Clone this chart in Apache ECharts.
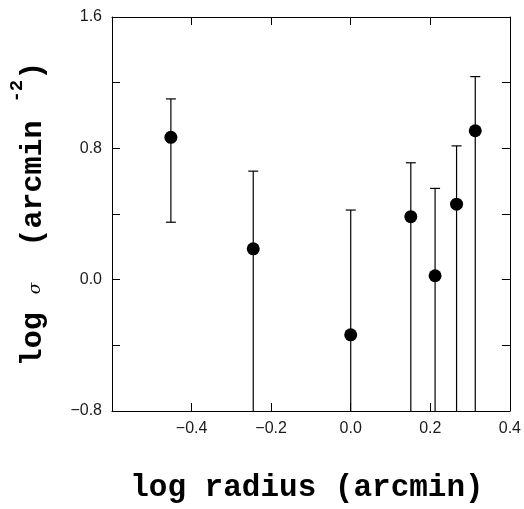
<!DOCTYPE html>
<html>
<head>
<meta charset="utf-8">
<script src="https://cdn.jsdelivr.net/npm/echarts@6/dist/echarts.min.js"></script>
<style>
  html, body { margin: 0; padding: 0; background: #fff; }
  #main { width: 524px; height: 509px; }
</style>
</head>
<body>
<div id="main"></div>
<script>
// log radius (arcmin)
var logRadius = [-0.452, -0.245, 0.0, 0.151, 0.212, 0.266, 0.313]
// log sigma
var logSigma = [0.867, 0.188, -0.336, 0.384, 0.024, 0.460, 0.907]
// error bar ends (lower ends below the axis are cut at -0.8)
var errHigh = [1.101, 0.661, 0.424, 0.712, 0.556, 0.815, 1.237]
var errLow = [0.350, -0.8, -0.8, -0.8, -0.8, -0.8, -0.8]
// tick labels
var xTickLabels = ['-0.4', '-0.2', '0.0', '0.2', '0.4']
var yTickLabels = ['-0.8', '0.0', '0.8', '1.6']

var X_MIN = -0.6, X_MAX = 0.4, Y_MIN = -0.8, Y_MAX = 1.6

var points = logRadius.map(function (x, i) { return [x, logSigma[i]] })
var bars = logRadius.map(function (x, i) { return [x, errHigh[i], errLow[i]] })

function tickFormatter(list) {
  return function (v) {
    var s = v.toFixed(1)
    if (s === '-0.0') s = '0.0'
    return list.indexOf(s) >= 0 ? s.replace('-', '\u2212') : ''
  }
}

var chart = echarts.init(document.getElementById('main'))

var axisCommon = {
  axisLine: { show: true, onZero: false, lineStyle: { color: '#000', width: 1 } },
  axisTick: { show: true, inside: true, length: 8, lineStyle: { color: '#000', width: 1 } },
  splitLine: { show: false }
}

chart.setOption({
  animation: false,
  grid: { left: 110, top: 17, right: 14, bottom: 93 },
  xAxis: [
    Object.assign({
      type: 'value', min: X_MIN, max: X_MAX, interval: 0.2, position: 'bottom',
      axisLabel: {
        color: '#1a1a1a', fontSize: 16, fontFamily: 'Liberation Sans', margin: 10,
        formatter: tickFormatter(xTickLabels)
      },
      name: 'log radius (arcmin)',
      nameLocation: 'middle',
      nameGap: 62,
      nameTextStyle: { fontFamily: 'Liberation Mono', fontWeight: 'bold', fontSize: 31, color: '#000', padding: [0, 8, 0, 0] }
    }, axisCommon),
    Object.assign({
      type: 'value', min: X_MIN, max: X_MAX, interval: 0.2, position: 'top',
      axisLabel: { show: false }
    }, axisCommon)
  ],
  yAxis: [
    Object.assign({
      type: 'value', min: Y_MIN, max: Y_MAX, interval: 0.4, position: 'left',
      axisLabel: {
        color: '#1a1a1a', fontSize: 16, fontFamily: 'Liberation Sans', margin: 10,
        formatter: tickFormatter(yTickLabels)
      },
      name: '{m|log }{s|σ}{m|  (arcmin }{p|-2}{m|)}',
      nameLocation: 'middle',
      nameGap: 64,
      nameRotate: 90,
      nameTextStyle: {
        rich: {
          m: { fontFamily: 'Liberation Mono', fontWeight: 'bold', fontSize: 30, color: '#000', lineHeight: 40, verticalAlign: 'bottom' },
          s: { fontFamily: 'DejaVu Serif', fontStyle: 'italic', fontSize: 17, color: '#000', lineHeight: 40, verticalAlign: 'bottom', padding: [0, 0, 4, 0] },
          p: { fontFamily: 'Liberation Mono', fontWeight: 'bold', fontSize: 19, color: '#000', lineHeight: 40, verticalAlign: 'top' }
        }
      }
    }, axisCommon),
    Object.assign({
      type: 'value', min: Y_MIN, max: Y_MAX, interval: 0.4, position: 'right',
      axisLabel: { show: false }
    }, axisCommon)
  ],
  series: [
    {
      type: 'custom',
      data: bars,
      encode: { x: 0, y: [1, 2] },
      z: 2,
      renderItem: function (params, api) {
        var x = api.value(0), hi = api.value(1), lo = api.value(2)
        var pHi = api.coord([x, hi]), pLo = api.coord([x, lo])
        var w = 5
        var st = { stroke: '#000', lineWidth: 1.2 }
        var children = [
          { type: 'line', shape: { x1: pHi[0], y1: pHi[1], x2: pLo[0], y2: pLo[1] }, style: st },
          { type: 'line', shape: { x1: pHi[0] - w, y1: pHi[1], x2: pHi[0] + w, y2: pHi[1] }, style: st }
        ]
        if (lo > Y_MIN) {
          children.push({ type: 'line', shape: { x1: pLo[0] - w, y1: pLo[1], x2: pLo[0] + w, y2: pLo[1] }, style: st })
        }
        return { type: 'group', children: children }
      }
    },
    {
      type: 'scatter',
      data: points,
      symbol: 'circle',
      symbolSize: 13,
      itemStyle: { color: '#000', opacity: 1 },
      z: 3
    }
  ]
})
</script>
</body>
</html>
